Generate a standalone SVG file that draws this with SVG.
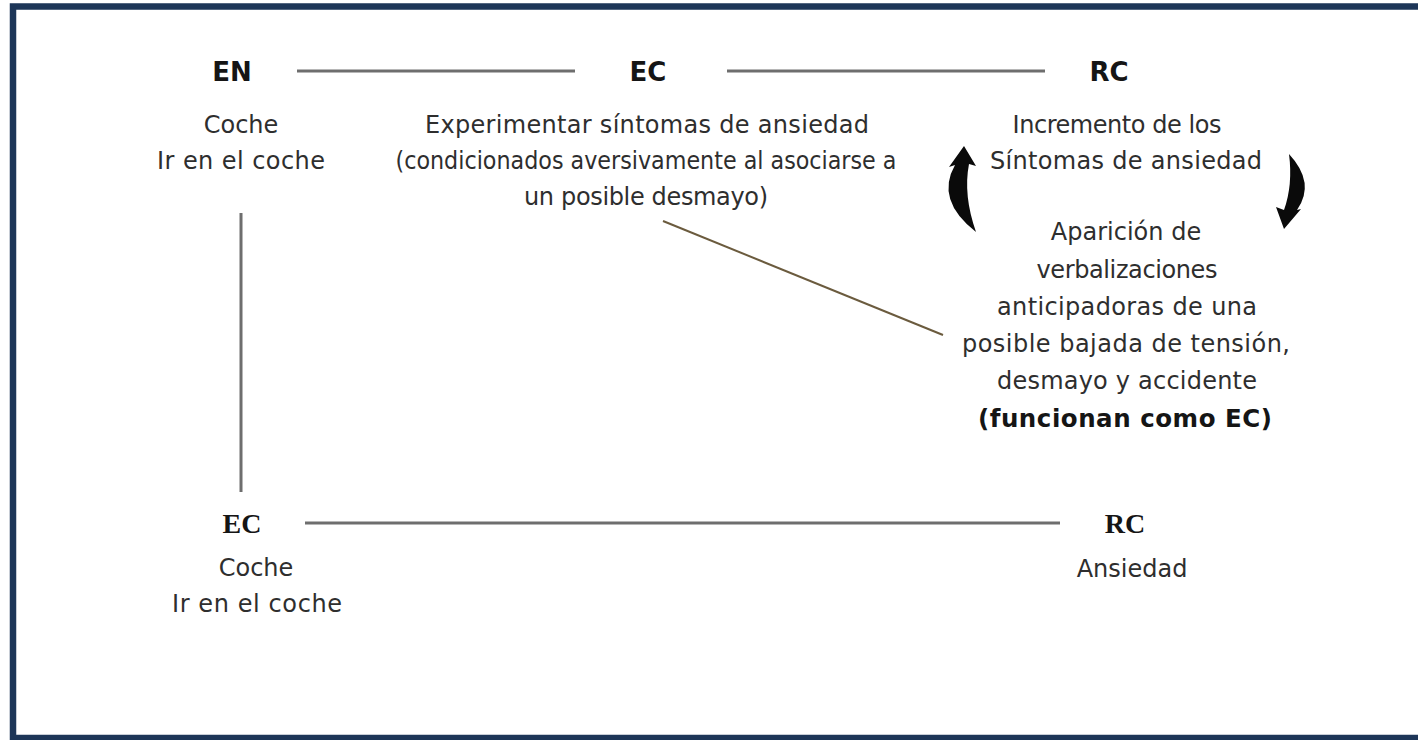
<svg xmlns="http://www.w3.org/2000/svg" width="1418" height="740" viewBox="0 0 1418 740">
<style>
.h{font-family:"DejaVu Sans","Verdana",sans-serif;font-weight:bold;font-size:26px;fill:#151515;text-anchor:middle}
.hs{font-family:"Liberation Serif","Times New Roman",serif;font-weight:bold;font-size:28px;fill:#151515;text-anchor:middle}
.t{font-family:"DejaVu Sans","Verdana",sans-serif;font-size:24px;fill:#2e2e2e;text-anchor:middle}
.b{font-family:"DejaVu Sans","Verdana",sans-serif;font-weight:bold;font-size:24.5px;fill:#151515;text-anchor:middle}
.ln{stroke:#6e6e6e;stroke-width:3;fill:none}
.arr{fill:#0a0a0a}
</style>
<rect x="0" y="0" width="1418" height="740" fill="#ffffff"/>
<rect x="13" y="6.5" width="1420" height="731.5" fill="none" stroke="#1d3658" stroke-width="6.5"/>
<g id="connectors">
<line class="ln" x1="297" y1="71" x2="575" y2="71"/>
<line class="ln" x1="727" y1="71" x2="1045" y2="71"/>
<line class="ln" x1="241" y1="213" x2="241" y2="492" stroke-width="2" stroke="#555"/>
<line class="ln" x1="305" y1="523" x2="1060" y2="523"/>
<line x1="663" y1="221" x2="943" y2="335" stroke="#6b5b3e" stroke-width="2"/>
<path class="arr" d="M 964 146 L 976 166 L 969 164 Q 963 195 976 232 Q 935 200 955 165 L 949 167 Z"/>
<path class="arr" d="M 1289 154 Q 1316 183 1297 210 L 1301 209 L 1284 229 L 1276 207 L 1284 210 Q 1293 185 1289 154 Z"/>
</g>
<g id="en">
<text class="h" x="232" y="81">EN</text>
<text class="t" x="241" y="133">Coche</text>
<text class="t" x="241" y="169" textLength="168" lengthAdjust="spacing">Ir en el coche</text>
</g>
<g id="ec-top">
<text class="h" x="648" y="81">EC</text>
<text class="t" x="647" y="133" textLength="444" lengthAdjust="spacing">Experimentar síntomas de ansiedad</text>
<text class="t" x="646" y="169" textLength="501" lengthAdjust="spacingAndGlyphs">(condicionados aversivamente al asociarse a</text>
<text class="t" x="646" y="205" textLength="244" lengthAdjust="spacing">un posible desmayo)</text>
</g>
<g id="rc-top">
<text class="h" x="1109" y="81">RC</text>
<text class="t" x="1117" y="133" textLength="209" lengthAdjust="spacing">Incremento de los</text>
<text class="t" x="1126" y="169" textLength="272" lengthAdjust="spacing">Síntomas de ansiedad</text>
</g>
<g id="verbalizaciones">
<text class="t" x="1126" y="240">Aparición de</text>
<text class="t" x="1127" y="278" textLength="181" lengthAdjust="spacing">verbalizaciones</text>
<text class="t" x="1127" y="315" textLength="260" lengthAdjust="spacing">anticipadoras de una</text>
<text class="t" x="1126" y="352" textLength="328" lengthAdjust="spacing">posible bajada de tensión,</text>
<text class="t" x="1127" y="389" textLength="260" lengthAdjust="spacing">desmayo y accidente</text>
<text class="b" x="1125" y="427" textLength="294" lengthAdjust="spacing">(funcionan como EC)</text>
</g>
<g id="ec-bottom">
<text class="hs" x="242" y="533">EC</text>
<text class="t" x="256" y="576">Coche</text>
<text class="t" x="257" y="612" textLength="170" lengthAdjust="spacing">Ir en el coche</text>
</g>
<g id="rc-bottom">
<text class="hs" x="1125" y="533">RC</text>
<text class="t" x="1132" y="577">Ansiedad</text>
</g>
</svg>
